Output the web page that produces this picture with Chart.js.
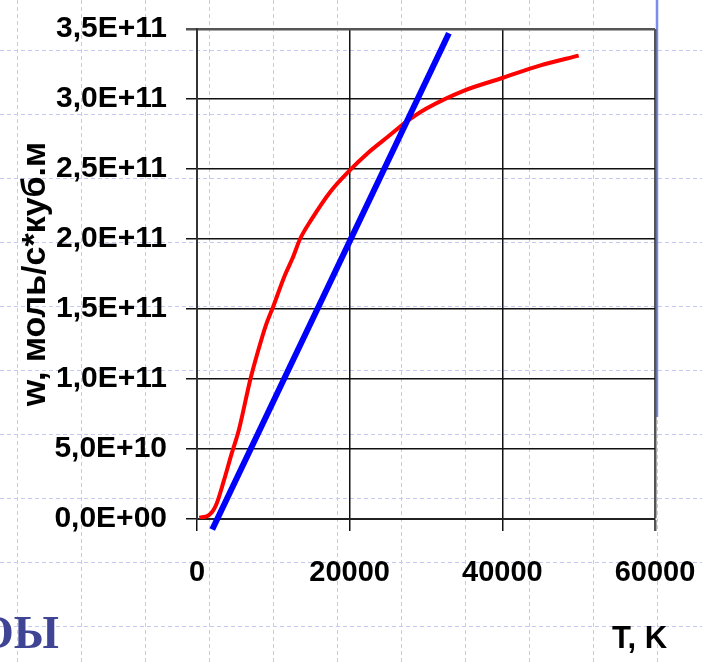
<!DOCTYPE html>
<html>
<head>
<meta charset="utf-8">
<script src="https://cdn.jsdelivr.net/npm/chart.js@4.4.1/dist/chart.umd.min.js"></script>
<style>
    body { margin: 0; background: #fff; }
    #wrap { position: relative; width: 702px; height: 664px; overflow: hidden; }
    #slideText { position: absolute; left: -22px; top: 610px; font: bold 46px/1 "Liberation Serif", "DejaVu Serif", serif; color: #3f4494; white-space: nowrap; }
    #xTitle { position: absolute; left: 612px; top: 622px; font: bold 31px/1 "Liberation Sans", Arial, sans-serif; color: #000; white-space: nowrap; }
</style>
</head>
<body>
<div id="wrap">
    <canvas id="myChart" width="702" height="664"></canvas>
    <div id="slideText">ОЫ</div>
    <div id="xTitle">T, K</div>
</div>
<script>
// температура, K
const tempK = [300, 1500, 2500, 3500, 4500, 5500, 7000, 8000, 9000, 10000, 11500, 12500,
    13500, 15000, 17500, 20000, 22500, 25000, 27500, 30000, 35000, 40000, 45000, 50000];
// скорость реакции (красная кривая)
const rateCurve = [1e9, 2.5e9, 1.0e10, 2.7e10, 4.6e10, 6.4e10, 1.0e11, 1.2e11, 1.38e11, 1.52e11, 1.74e11, 1.86e11,
    2.0e11, 2.14e11, 2.34e11, 2.49e11, 2.62e11, 2.73e11, 2.84e11, 2.93e11, 3.06e11, 3.15e11, 3.24e11, 3.31e11];
// прямая (синяя)
const lineT = [2000, 33000];
const lineRate = [-7.5e9, 3.47e11];

const xTicks = [0, 20000, 40000, 60000];
const yTicks = [0, 5e10, 1e11, 1.5e11, 2e11, 2.5e11, 3e11, 3.5e11];

const yTitle = 'w, моль/с*куб.м';

const sciLabel = (v) => {
    if (v === 0) return '0,0E+00';
    const e = Math.floor(Math.log10(Math.abs(v)) + 1e-9);
    const m = v / Math.pow(10, e);
    return m.toFixed(1).replace('.', ',') + 'E+' + String(e).padStart(2, '0');
};

// фон слайда: пунктирная сетка и синяя вертикальная линия
const slideBackground = {
    id: 'slideBackground',
    beforeDraw(chart) {
        const ctx = chart.ctx;
        const w = chart.width, h = chart.height;
        ctx.save();
        ctx.fillStyle = '#fff';
        ctx.fillRect(0, 0, w, h);
        ctx.strokeStyle = '#c3cbf3';
        ctx.lineWidth = 1;
        ctx.setLineDash([4, 3]);
        for (let x = 17.5; x < w; x += 64) {
            ctx.beginPath(); ctx.moveTo(x, 0); ctx.lineTo(x, h); ctx.stroke();
        }
        for (let y = 50.5; y < h; y += 64) {
            ctx.beginPath(); ctx.moveTo(0, y); ctx.lineTo(w, y); ctx.stroke();
        }
        ctx.setLineDash([]);
        ctx.strokeStyle = '#7a8cf0';
        ctx.lineWidth = 2.5;
        ctx.beginPath(); ctx.moveTo(657, 0); ctx.lineTo(657, 417); ctx.stroke();
        ctx.restore();
    }
};

const font = { family: '"Liberation Sans", Arial, sans-serif', weight: 'bold' };
const xMax = xTicks[xTicks.length - 1];
const yMax = yTicks[yTicks.length - 1];

const ctx = document.getElementById('myChart').getContext('2d');
const myChart = new Chart(ctx, {
    type: 'line',
    data: {
        datasets: [{
            data: tempK.map((t, i) => ({ x: t, y: rateCurve[i] })),
            borderColor: '#ff0000',
            borderWidth: 4,
            pointRadius: 0,
            cubicInterpolationMode: 'monotone',
            order: 2,
        }, {
            data: lineT.map((t, i) => ({ x: t, y: lineRate[i] })),
            borderColor: '#0000ff',
            borderWidth: 6,
            pointRadius: 0,
            clip: false,
            order: 1,
        }]
    },
    options: {
        responsive: false,
        animation: false,
        layout: { padding: { top: 29, right: 47, left: 0, bottom: 0 } },
        plugins: { legend: { display: false }, tooltip: { enabled: false } },
        scales: {
            x: {
                type: 'linear',
                min: xTicks[0],
                max: xMax,
                afterBuildTicks: (scale) => { scale.ticks = xTicks.map(v => ({ value: v })); },
                afterFit: (scale) => {
                    scale.height = 145;
                    scale.paddingLeft = 0;
                    scale.paddingRight = 0;
                },
                ticks: { font: { ...font, size: 29 }, color: '#000', padding: 25, maxRotation: 0, autoSkip: false, callback: (v) => String(v) },
                grid: {
                    color: (c) => c.tick && c.tick.value === xMax ? '#555' : '#111',
                    lineWidth: (c) => c.tick && c.tick.value === xMax ? 2.5 : 1.5,
                    tickLength: 12,
                },
                border: { color: '#222', width: 2 },
            },
            y: {
                min: yTicks[0],
                max: yMax,
                afterBuildTicks: (scale) => { scale.ticks = yTicks.map(v => ({ value: v })); },
                afterFit: (scale) => {
                    scale.width = 197;
                    scale.paddingTop = 0;
                    scale.paddingBottom = 0;
                },
                ticks: { font: { ...font, size: 30 }, color: '#000', padding: 19, autoSkip: false, callback: sciLabel },
                grid: {
                    color: (c) => c.tick && c.tick.value === yMax ? '#555' : '#111',
                    lineWidth: (c) => c.tick && c.tick.value === yMax ? 2.5 : 1.5,
                    tickLength: 11,
                },
                border: { color: '#333', width: 2 },
                title: { display: true, text: yTitle, color: '#000', font: { ...font, size: 34 }, padding: 15 },
            }
        }
    },
    plugins: [slideBackground],
});
</script>
</body>
</html>
